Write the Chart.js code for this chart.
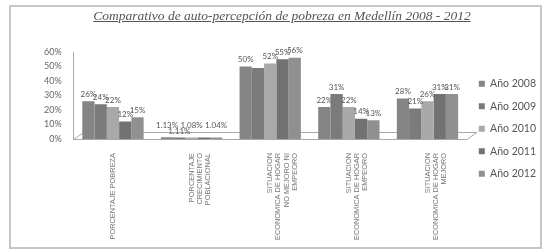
<!DOCTYPE html>
<html>
<head>
<meta charset="utf-8">
<script src="https://cdn.jsdelivr.net/npm/chart.js@4.4.1/dist/chart.umd.min.js"></script>
<style>
  body { margin: 0; background: #fff; }
  #wrap { position: relative; width: 542px; height: 250px; }
  canvas { position: absolute; left: 0; top: 0; }
  #title { position: absolute; left: 11px; top: 8px; width: 542px; text-align: center;
           font: italic 13.5px "Liberation Serif", serif; color: #555; text-decoration: underline; }
  #frame { position: absolute; left: 9px; top: 5px; width: 529px; height: 240px;
           border: 2px solid #c6c6c6; pointer-events: none; }
</style>
</head>
<body>
<div id="wrap">
  <canvas id="myChart" width="542" height="250"></canvas>
  <div id="title">Comparativo de auto-percepción de pobreza en Medellín 2008 - 2012</div>
  <div id="frame"></div>
</div>
<script>
const categories = [
  ["PORCENTAJE POBREZA"],
  ["PORCENTAJE", "CRECIMIENTO", "POBLACIONAL"],
  ["SITUACION", "ECONOMICA DE HOGAR", "NO MEJORO NI", "EMPEORO"],
  ["SITUACION", "ECONOMICA DE HOGAR", "EMPEORO"],
  ["SITUACION", "ECONOMICA DE HOGAR", "MEJORO"]
];
const years = ["Año 2008", "Año 2009", "Año 2010", "Año 2011", "Año 2012"];
const y2008 = [26, 1.13, 50, 22, 28];
const y2009 = [24, 1.11, 49, 31, 21];
const y2010 = [22, 1.08, 52, 22, 26];
const y2011 = [12, 1.06, 55, 14, 31];
const y2012 = [15, 1.04, 56, 13, 31];
const yTicks = [0, 10, 20, 30, 40, 50, 60];
const colors = ["#858585", "#7b7b7b", "#a9a9a9", "#727272", "#909090"];
// labels that are hidden behind other bars in the original [category, series]
const hiddenLabels = [[1, 3], [2, 1]];

const series = [y2008, y2009, y2010, y2011, y2012];

// simple 3D-ish floor under the bars
const floorPlugin = {
  id: 'floor',
  beforeDatasetsDraw(chart) {
    const ctx = chart.ctx;
    const a = chart.chartArea;
    const y0 = chart.scales.y.getPixelForValue(0);
    ctx.save();
    ctx.strokeStyle = '#a8a8a8';
    ctx.lineWidth = 1;
    ctx.beginPath();
    ctx.moveTo(a.left, y0 + 0.5);
    ctx.lineTo(a.right, y0 + 0.5);
    ctx.lineTo(a.right + 10, y0 - 6.5);
    ctx.lineTo(a.left + 10, y0 - 6.5);
    ctx.lineTo(a.left, y0 + 0.5);
    ctx.stroke();
    ctx.restore();
  }
};

const valueLabels = {
  id: 'valueLabels',
  afterDatasetsDraw(chart) {
    const ctx = chart.ctx;
    ctx.save();
    ctx.font = '8px Lato, sans-serif';
    ctx.fillStyle = '#555';
    ctx.textAlign = 'center';
    ctx.textBaseline = 'bottom';
    chart.data.datasets.forEach((ds, di) => {
      const meta = chart.getDatasetMeta(di);
      meta.data.forEach((bar, i) => {
        if (hiddenLabels.some(h => h[0] === i && h[1] === di)) return;
        const v = ds.data[i];
        const txt = v < 2 ? v.toFixed(2) + '%' : Math.round(v) + '%';
        let dy = 3;
        if (v < 2) dy = di % 2 ? 2 : 8;
        ctx.fillText(txt, bar.x, bar.y - dy);
      });
    });
    ctx.restore();
  }
};

new Chart(document.getElementById('myChart'), {
  type: 'bar',
  data: {
    labels: categories,
    datasets: series.map((d, i) => ({
      label: years[i],
      data: d,
      backgroundColor: colors[i],
      borderWidth: 0,
      categoryPercentage: 0.78,
      barPercentage: 1.0
    }))
  },
  options: {
    responsive: false,
    animation: false,
    layout: { padding: { left: 36, right: -4, top: 52, bottom: 0 } },
    plugins: {
      legend: {
        position: 'right',
        align: 'start',
        title: { display: true, text: '', padding: 0, font: { size: 12 } },
        labels: {
          boxWidth: 6, boxHeight: 6, padding: 12,
          color: '#555',
          font: { family: 'Lato', size: 10.5 }
        }
      },
      tooltip: { enabled: false }
    },
    scales: {
      x: {
        grid: { display: false },
        border: { display: false },
        afterFit: s => { s.height = 111; },
        ticks: {
          minRotation: 90, maxRotation: 90,
          color: '#777',
          font: { family: 'Liberation Sans', size: 7.4, lineHeight: 1.1 },
          padding: 6
        }
      },
      y: {
        min: 0, max: 60,
        afterBuildTicks: s => { s.ticks = yTicks.map(v => ({ value: v })); },
        grid: { display: false, drawTicks: true, tickLength: 4 },
        border: { display: true, color: '#aaa' },
        ticks: {
          color: '#666',
          font: { family: 'Lato', size: 9 },
          padding: 8,
          callback: v => v + '%'
        }
      }
    }
  },
  plugins: [floorPlugin, valueLabels]
});
</script>
</body>
</html>
